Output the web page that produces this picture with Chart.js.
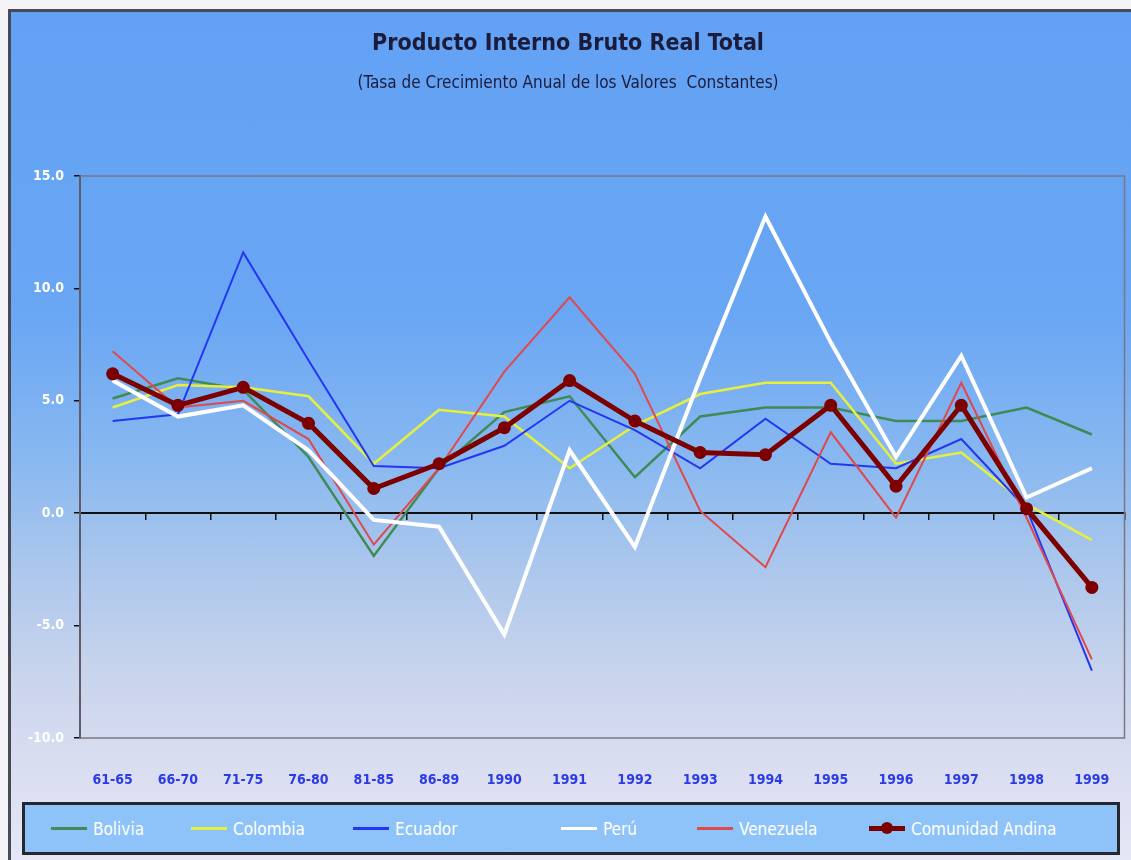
<!DOCTYPE html>
<html>
<head>
<meta charset="utf-8">
<script src="https://cdn.jsdelivr.net/npm/chart.js@4.4.1/dist/chart.umd.min.js"></script>
<style>
  html, body { margin: 0; padding: 0; background: #f4f4f8; }
  #frame {
    position: absolute; left: 8px; top: 9px; width: 1130px; height: 860px;
    border-left: 3px solid #4a4a55; border-top: 3px solid #4a4a55;
    background: linear-gradient(to bottom, #62a1f4 0%, #69a6f4 35%, #88b8f0 52%, #aac6ec 64%, #c6d3ec 76%, #d8dcf0 86%, #e6e8f5 100%);
  }
  #wrap { position: absolute; left: 0; top: 0; width: 1131px; height: 800px; }
  #legend {
    position: absolute; left: 22px; top: 802px; width: 1092px; height: 47px;
    border: 3px solid #26262e; background: #8ec3f9;
    font-family: 'Liberation Sans Narrow', 'DejaVu Sans Condensed', 'Liberation Sans', sans-serif;
    font-size: 17px; color: #ffffff;
  }
  .item { position: absolute; top: 0; height: 47px; display: flex; align-items: center; }
  .swatch { position: relative; width: 36px; margin-right: 6px; }
  .dot { position: absolute; left: 12px; top: -6px; width: 12px; height: 12px; border-radius: 50%; }
</style>
</head>
<body>
<div id="frame"></div>
<div id="wrap"><canvas id="chart" width="1131" height="800"></canvas></div>
<div id="legend"></div>
<script>
// categories
const periods = ['61-65', '66-70', '71-75', '76-80', '81-85', '86-89', '1990', '1991', '1992',
                 '1993', '1994', '1995', '1996', '1997', '1998', '1999'];

// growth rates (%)
const bolivia   = [5.1, 6.0, 5.5, 2.5, -1.9, 2.0, 4.5, 5.2, 1.6, 4.3, 4.7, 4.7, 4.1, 4.1, 4.7, 3.5];
const colombia  = [4.7, 5.7, 5.6, 5.2, 2.2, 4.6, 4.3, 2.0, 3.9, 5.3, 5.8, 5.8, 2.2, 2.7, 0.4, -1.2];
const ecuador   = [4.1, 4.4, 11.6, 6.8, 2.1, 2.0, 3.0, 5.0, 3.7, 2.0, 4.2, 2.2, 2.0, 3.3, 0.2, -7.0];
const peru      = [5.9, 4.3, 4.8, 2.8, -0.3, -0.6, -5.4, 2.8, -1.5, 6.0, 13.2, 7.6, 2.5, 7.0, 0.7, 2.0];
const venezuela = [7.2, 4.7, 5.0, 3.3, -1.4, 2.0, 6.3, 9.6, 6.2, 0.1, -2.4, 3.6, -0.2, 5.8, -0.2, -6.5];
const andina    = [6.2, 4.8, 5.6, 4.0, 1.1, 2.2, 3.8, 5.9, 4.1, 2.7, 2.6, 4.8, 1.2, 4.8, 0.2, -3.3];

const yTicks = [-10, -5, 0, 5, 10, 15];

const FONT = "'Liberation Sans Narrow', 'DejaVu Sans Condensed', 'Liberation Sans', sans-serif";

const series = [
    { label: 'Bolivia',   data: bolivia,   color: '#3f8a55', width: 2.5, order: 5 },
    { label: 'Colombia',  data: colombia,  color: '#e6f03c', width: 2.5, order: 4 },
    { label: 'Ecuador',   data: ecuador,   color: '#2436f2', width: 2,   order: 3 },
    { label: 'Perú',      data: peru,      color: '#ffffff', width: 4,   order: 1 },
    { label: 'Venezuela', data: venezuela, color: '#e0484c', width: 2,   order: 2 },
    { label: 'Comunidad  Andina', data: andina, color: '#7d0000', width: 5, order: 0, marker: true }
];

// thin frame round the plot area
const plotFrame = {
    id: 'plotFrame',
    beforeDatasetsDraw(chart) {
        const a = chart.chartArea;
        const ctx = chart.ctx;
        ctx.save();
        ctx.strokeStyle = '#7c7684';
        ctx.lineWidth = 1.5;
        ctx.strokeRect(a.left, a.top, a.right - a.left, a.bottom - a.top);
        ctx.restore();
    }
};

const ctx = document.getElementById('chart').getContext('2d');
new Chart(ctx, {
    type: 'line',
    data: {
        labels: periods,
        datasets: series.map(s => ({
            label: s.label,
            data: s.data,
            borderColor: s.color,
            backgroundColor: s.color,
            borderWidth: s.width,
            order: s.order,
            tension: 0,
            pointRadius: s.marker ? 6.5 : 0,
            pointBackgroundColor: s.color,
            pointBorderWidth: 0,
            xAxisID: 'x',
            yAxisID: 'y'
        }))
    },
    options: {
        responsive: false,
        animation: false,
        layout: { padding: { left: 10, right: 5, top: 30, bottom: 0 } },
        plugins: {
            legend: { display: false },
            tooltip: { enabled: false },
            title: {
                display: true,
                text: 'Producto Interno Bruto Real Total',
                color: '#1c1c3a',
                font: { family: FONT, size: 23, weight: 'bold' },
                padding: { top: 0, bottom: 8 }
            },
            subtitle: {
                display: true,
                text: '(Tasa de Crecimiento Anual de los Valores  Constantes)',
                color: '#1c1c3a',
                font: { family: FONT, size: 17 },
                padding: { top: 8, bottom: 82 }
            }
        },
        scales: {
            x: {
                type: 'category',
                position: 'bottom',
                offset: true,
                afterFit: s => { s.height = 62; s.paddingLeft = 0; s.paddingRight = 0; },
                grid: { display: false },
                border: { display: false },
                ticks: {
                    color: '#2b3be6',
                    padding: 26,
                    maxRotation: 0,
                    autoSkip: false,
                    font: { family: FONT, size: 14, weight: 'bold' }
                }
            },
            xZero: {
                type: 'category',
                labels: periods,
                position: { y: 0 },
                offset: true,
                grid: {
                    offset: true,
                    drawOnChartArea: false,
                    drawTicks: true,
                    tickLength: 6,
                    color: '#111111',
                    lineWidth: 1.5
                },
                border: { display: true, color: '#111111', width: 2 },
                ticks: { display: false }
            },
            y: {
                min: -10,
                max: 15,
                afterFit: s => { s.width = 70; },
                afterBuildTicks: s => { s.ticks = yTicks.map(v => ({ value: v })); },
                grid: {
                    drawOnChartArea: false,
                    drawTicks: true,
                    tickLength: 6,
                    color: '#111111',
                    lineWidth: 1.5
                },
                border: { display: true, color: '#111111', width: 2 },
                ticks: {
                    color: '#ffffff',
                    padding: 10,
                    font: { family: FONT, size: 14, weight: 'bold' },
                    callback: v => v.toFixed(1)
                }
            }
        }
    },
    plugins: [plotFrame]
});

// legend box under the chart
const legendX = [26, 166, 328, 536, 672, 844];
const legend = document.getElementById('legend');
series.forEach((s, i) => {
    const item = document.createElement('div');
    item.className = 'item';
    item.style.left = legendX[i] + 'px';
    const sw = document.createElement('div');
    sw.className = 'swatch';
    sw.style.height = s.marker ? '5px' : '3px';
    sw.style.background = s.color;
    if (s.marker) {
        const d = document.createElement('div');
        d.className = 'dot';
        d.style.top = '-4px';
        d.style.background = s.color;
        sw.appendChild(d);
    }
    item.appendChild(sw);
    const txt = document.createElement('span');
    txt.textContent = s.label;
    item.appendChild(txt);
    legend.appendChild(item);
});
</script>
</body>
</html>
